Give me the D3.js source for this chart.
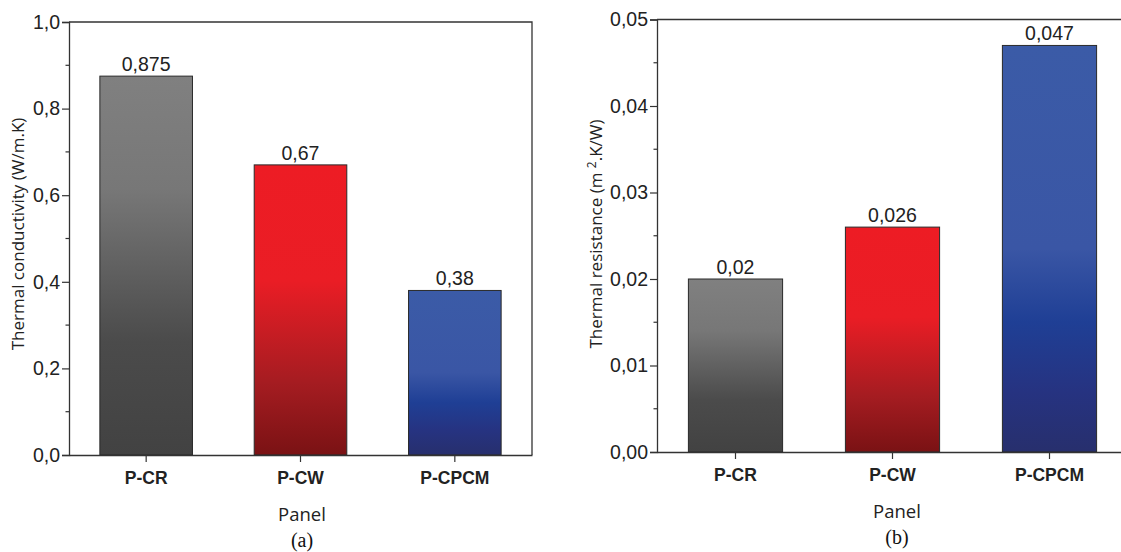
<!DOCTYPE html>
<html>
<head>
<meta charset="utf-8">
<script src="https://cdn.jsdelivr.net/npm/d3@7"></script>
<style>
  body { margin: 0; background: #fff; }
  svg { display: block; }
</style>
</head>
<body>
<div id="chart"></div>
<script>
// data
const categories = ['P-CR', 'P-CW', 'P-CPCM'];
const conductivity = [0.875, 0.67, 0.38];
const resistance = [0.02, 0.026, 0.047];
const conductivityTicks = [0, 0.2, 0.4, 0.6, 0.8, 1.0];
const resistanceTicks = [0, 0.01, 0.02, 0.03, 0.04, 0.05];

// gradient stops for each bar (top -> bottom)
const barGradients = [
    [['0%', '#808080'], ['30%', '#777777'], ['70%', '#4b4b4b'], ['100%', '#424242']],
    [['0%', '#ed1c24'], ['40%', '#ea1d25'], ['75%', '#a51c21'], ['100%', '#7a1214']],
    [['0%', '#3b5ba7'], ['50%', '#3a56a5'], ['68%', '#1f3f95'], ['85%', '#263381'], ['100%', '#272f6d']]
];

const width = 1121, height = 552;
const svg = d3.select('#chart').append('svg')
    .attr('width', width)
    .attr('height', height);

const defs = svg.append('defs');
barGradients.forEach((stops, i) => {
    const g = defs.append('linearGradient')
        .attr('id', 'grad' + i)
        .attr('x1', 0).attr('y1', 0).attr('x2', 0).attr('y2', 1);
    stops.forEach(s => g.append('stop').attr('offset', s[0]).attr('stop-color', s[1]));
});

const comma = v => String(v).replace('.', ',');
const sans = 'Liberation Sans, Arial, sans-serif';

function drawPanel(cfg) {
    const x = d3.scaleBand()
        .domain(categories)
        .range([cfg.left, cfg.right])
        .paddingInner(0.4)
        .paddingOuter(0.2);
    const y = d3.scaleLinear()
        .domain([0, cfg.max])
        .range([cfg.bottom, cfg.top]);

    const g = svg.append('g');

    // bars
    g.selectAll('.bar')
        .data(cfg.values)
        .enter().append('rect')
        .attr('class', 'bar')
        .attr('x', (d, i) => x(categories[i]))
        .attr('y', d => y(d))
        .attr('width', x.bandwidth())
        .attr('height', d => y(0) - y(d))
        .attr('fill', (d, i) => `url(#grad${i})`)
        .attr('stroke', '#2a2a2a')
        .attr('stroke-width', 1);

    // value labels
    g.selectAll('.val')
        .data(cfg.values)
        .enter().append('text')
        .attr('x', (d, i) => x(categories[i]) + x.bandwidth() / 2)
        .attr('y', d => y(d) - 5)
        .attr('text-anchor', 'middle')
        .attr('font-family', sans)
        .attr('font-size', 19.5)
        .attr('fill', '#222')
        .text(d => comma(d));

    // frame top and right
    g.append('path')
        .attr('d', `M${cfg.left},${cfg.top}H${cfg.right}V${cfg.bottom}`)
        .attr('fill', 'none')
        .attr('stroke', '#333')
        .attr('stroke-width', 1.3);

    // y axis
    const yAxis = g.append('g')
        .attr('transform', `translate(${cfg.left},0)`)
        .call(d3.axisLeft(y)
            .tickValues(cfg.ticks)
            .tickSize(7)
            .tickPadding(2)
            .tickFormat(d => d3.format(cfg.fmt)(d).replace('.', ',')));
    yAxis.select('.domain').attr('stroke', '#333').attr('stroke-width', 1.3);
    yAxis.selectAll('.tick line').attr('stroke', '#333').attr('stroke-width', 1.2);
    yAxis.selectAll('text')
        .attr('font-family', sans)
        .attr('font-size', 19.5)
        .attr('fill', '#222');

    // minor ticks
    const step = cfg.ticks[1] - cfg.ticks[0];
    g.selectAll('.minor')
        .data(cfg.ticks.slice(0, -1))
        .enter().append('line')
        .attr('x1', cfg.left - 3.5)
        .attr('x2', cfg.left)
        .attr('y1', d => y(d + step / 2))
        .attr('y2', d => y(d + step / 2))
        .attr('stroke', '#333')
        .attr('stroke-width', 1.2);

    // x axis
    const xAxis = g.append('g')
        .attr('transform', `translate(0,${cfg.bottom})`)
        .call(d3.axisBottom(x).tickSize(7).tickPadding(10).tickSizeOuter(0));
    xAxis.select('.domain').attr('stroke', '#333').attr('stroke-width', 1.3);
    xAxis.selectAll('.tick line').attr('stroke', '#333').attr('stroke-width', 1.2);
    xAxis.selectAll('text')
        .attr('font-family', sans)
        .attr('font-weight', 'bold')
        .attr('font-size', 17.5)
        .attr('fill', '#222');

    // axis titles
    g.append('text')
        .attr('x', cfg.titleX)
        .attr('y', cfg.bottom + 66)
        .attr('text-anchor', 'middle')
        .attr('font-family', 'Open Sans, sans-serif')
        .attr('font-size', 18.5)
        .attr('fill', '#222')
        .text('Panel');

    g.append('text')
        .attr('x', cfg.titleX)
        .attr('y', cfg.bottom + 92)
        .attr('text-anchor', 'middle')
        .attr('font-family', 'Liberation Serif, Times New Roman, serif')
        .attr('font-size', 20)
        .attr('fill', '#111')
        .text(cfg.caption);

    const yt = g.append('text')
        .attr('transform', `translate(${cfg.ylabelX},${cfg.ylabelY}) rotate(-90)`)
        .attr('text-anchor', 'middle')
        .attr('font-family', 'Open Sans, sans-serif')
        .attr('font-size', 17)
        .attr('fill', '#222');
    cfg.ylabel(yt);
}

drawPanel({
    left: 69, right: 532, top: 22, bottom: 455,
    max: 1.0, values: conductivity, ticks: conductivityTicks, fmt: '.1f',
    titleX: 302, caption: '(a)', ylabelX: 24, ylabelY: 234,
    ylabel: t => t.text('Thermal conductivity (W/m.K)')
});

drawPanel({
    left: 657, right: 1128, top: 19.5, bottom: 452,
    max: 0.05, values: resistance, ticks: resistanceTicks, fmt: '.2f',
    titleX: 897, caption: '(b)', ylabelX: 602, ylabelY: 234,
    ylabel: t => {
        t.append('tspan').text('Thermal resistance (m ');
        t.append('tspan').attr('font-size', 12).attr('dy', -6).text('2');
        t.append('tspan').attr('dy', 6).text('.K/W)');
    }
});
</script>
</body>
</html>
